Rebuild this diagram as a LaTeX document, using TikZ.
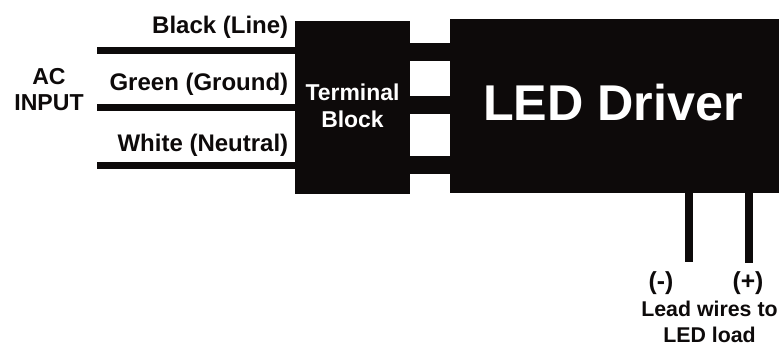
\documentclass[tikz,border=0pt]{standalone}
\usepackage{fontspec}
\setmainfont{Liberation Sans}
\definecolor{blockblack}{HTML}{0D0A0A}
\tikzset{
  blockbox/.style={fill=blockblack,draw=none,inner sep=0pt,anchor=north west,text=white,font=\bfseries},
  wire/.style={draw=blockblack,line width=5.25pt},
  lead/.style={draw=blockblack,line width=6pt},
  bus/.style={draw=blockblack,line width=13.5pt},
  wirelabel/.style={anchor=base east,inner sep=0pt,text=blockblack,font=\fontsize{18}{21}\selectfont\bfseries},
  sidelabel/.style={anchor=base,inner sep=0pt,text=blockblack,font=\fontsize{17.3}{19.5}\selectfont\bfseries},
}
\begin{document}
\begin{tikzpicture}[x=0.75pt,y=-0.75pt]
\useasboundingbox (0,0) rectangle (779,347);
\node[blockbox,minimum width=85.75pt,minimum height=129.75pt] (tb) at (295,21) {};
\node[blockbox,minimum width=246.75pt,minimum height=130.25pt] (drv) at (450,19) {};
\node[text=white,font=\fontsize{17.2}{20}\selectfont\bfseries,align=center,inner sep=0pt] (tbtxt) at (352.5,106) {Terminal\\Block};
\node[text=white,font=\fontsize{37.7}{44}\selectfont\bfseries,inner sep=0pt] (drvtxt) at (613,103) {LED Driver};
% fils AC
\coordinate (w1) at (97,50.5);
\coordinate (w2) at (97,107.5);
\coordinate (w3) at (97,165.5);
\draw[wire] (w1) -- (w1 -| tb.west);
\draw[wire] (w2) -- (w2 -| tb.west);
\draw[wire] (w3) -- (w3 -| tb.west);
% liaisons bloc - driver
\coordinate (b1) at (409,52);
\coordinate (b2) at (409,105);
\coordinate (b3) at (409,165);
\draw[bus] (b1) -- (b1 -| drv.west);
\draw[bus] (b2) -- (b2 -| drv.west);
\draw[bus] (b3) -- (b3 -| drv.west);
% sorties LED
\coordinate (l1) at (689,262);
\coordinate (l2) at (749,263);
\draw[lead] (l1 |- drv.south) -- (l1);
\draw[lead] (l2 |- drv.south) -- (l2);
\node[wirelabel] (black) at (288.5,33) {Black (Line)};
\node[wirelabel] (green) at (288.5,90) {Green (Ground)};
\node[wirelabel] (white) at (288.5,151.5) {White (Neutral)};
\node[sidelabel,align=center] (ac) at (49,110) {AC\\INPUT};
\node[sidelabel,font=\fontsize{18.5}{21}\selectfont\bfseries] (minus) at (661,289) {(-)};
\node[sidelabel,font=\fontsize{18.5}{21}\selectfont\bfseries] (plus) at (748,289) {(+)};
\node[sidelabel,font=\fontsize{16}{19.5}\selectfont\bfseries,align=center,anchor=north] (load) at (709.5,301) {Lead wires to\\LED load};
\end{tikzpicture}
\end{document}
